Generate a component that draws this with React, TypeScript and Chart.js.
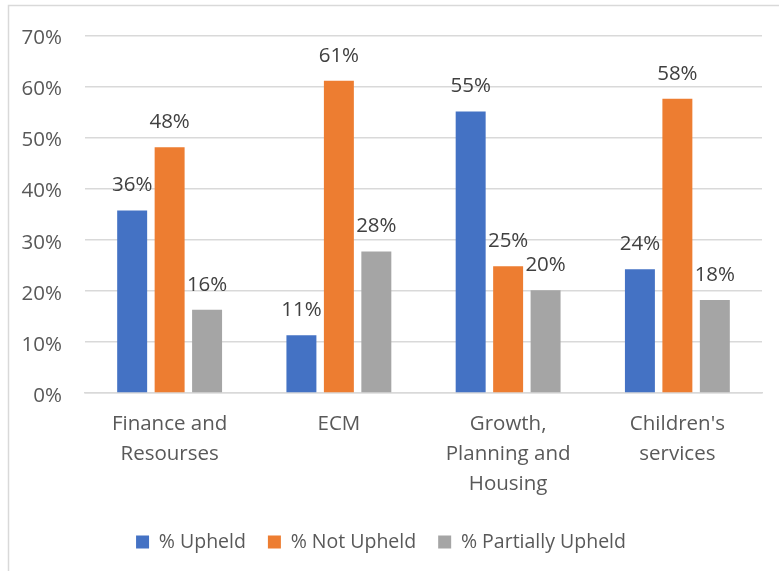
import React, { useEffect, useRef } from "react";
import { Chart, registerables } from "chart.js";

Chart.register(...registerables);

const categories: string[][] = [
  ["Finance and", "Resourses"],
  ["ECM"],
  ["Growth,", "Planning and", "Housing"],
  ["Children's", "services"],
];
const seriesNames = ["% Upheld", "% Not Upheld", "% Partially Upheld"];
const upheld = [35.7, 11.3, 55.1, 24.2];
const notUpheld = [48.1, 61.1, 24.8, 57.6];
const partiallyUpheld = [16.3, 27.7, 20.1, 18.2];
const colors = ["#4472C4", "#ED7D31", "#A5A5A5"];
const yTicks = [0, 10, 20, 30, 40, 50, 60, 70];

const FONT = "'Open Sans', 'DejaVu Sans', sans-serif";

const dataLabelPlugin = {
  id: "dataLabels",
  afterDatasetsDraw(chart: any) {
    const ctx = chart.ctx;
    ctx.save();
    ctx.font = `20.5px ${FONT}`;
    ctx.fillStyle = "#404040";
    ctx.textAlign = "center";
    ctx.textBaseline = "middle";
    chart.data.datasets.forEach((ds: any, i: number) => {
      const meta = chart.getDatasetMeta(i);
      meta.data.forEach((el: any, j: number) => {
        ctx.fillText(Math.round(ds.data[j]) + "%", el.x, el.y - 25);
      });
    });
    ctx.restore();
  },
};

const framePlugin = {
  id: "frame",
  beforeDraw(chart: any) {
    const ctx = chart.ctx;
    ctx.save();
    ctx.fillStyle = "#ffffff";
    ctx.fillRect(0, 0, chart.width, chart.height);
    ctx.strokeStyle = "#d9d9d9";
    ctx.lineWidth = 1.5;
    ctx.beginPath();
    ctx.moveTo(8.5, chart.height);
    ctx.lineTo(8.5, 5.5);
    ctx.lineTo(chart.width, 5.5);
    ctx.stroke();
    ctx.restore();
  },
};

export default function App() {
  const ref = useRef<HTMLCanvasElement | null>(null);
  useEffect(() => {
    if (!ref.current) return;
    const chart = new Chart(ref.current, {
      type: "bar",
      data: {
        labels: categories,
        datasets: [upheld, notUpheld, partiallyUpheld].map((d, i) => ({
          label: seriesNames[i],
          data: d,
          backgroundColor: colors[i],
          barPercentage: 0.8,
          categoryPercentage: 0.664,
        })),
      },
      options: {
        animation: false,
        responsive: false,
        devicePixelRatio: 1,
        layout: { padding: { top: 33, left: 0, right: 17, bottom: 9.25 } },
        plugins: {
          tooltip: { enabled: false },
          legend: {
            position: "bottom",
            labels: {
              boxWidth: 13,
              boxHeight: 13,
              padding: 22,
              color: "#595959",
              font: { family: FONT, size: 19.5 },
            },
          },
        },
        scales: {
          x: {
            grid: { display: false, drawTicks: false },
            border: { color: "#d9d9d9", width: 1.5 },
            ticks: {
              color: "#595959",
              padding: 16,
              maxRotation: 0,
              autoSkip: false,
              font: { family: FONT, size: 20.5, lineHeight: 30 / 20.5 },
            },
            afterFit(scale: any) {
              scale.height = 117.25;
            },
          },
          y: {
            min: 0,
            max: 70,
            afterBuildTicks(scale: any) {
              scale.ticks = yTicks.map((v) => ({ value: v }));
            },
            grid: { color: "#d9d9d9", lineWidth: 1.5, drawTicks: false },
            border: { display: false },
            ticks: {
              color: "#595959",
              padding: 23,
              labelOffset: 3,
              font: { family: FONT, size: 20.5 },
              callback: (v: any) => v + "%",
            },
            afterFit(scale: any) {
              scale.width = 85;
            },
          },
        },
      },
      plugins: [framePlugin, dataLabelPlugin],
    });
    return () => chart.destroy();
  }, []);
  return (
    <div style={{ position: "fixed", left: 0, top: 0, width: 779, height: 571, background: "#fff" }}>
      <canvas ref={ref} width={779} height={571} style={{ display: "block" }} />
    </div>
  );
}
